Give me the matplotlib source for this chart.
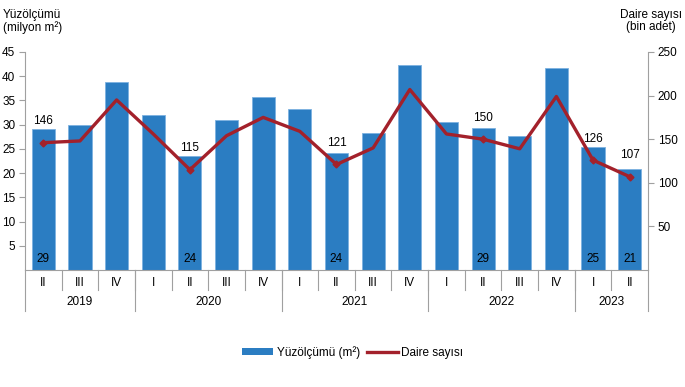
import matplotlib.pyplot as plt
import matplotlib.transforms as mtransforms
from matplotlib.patches import Patch
from matplotlib.lines import Line2D
import numpy as np

plt.rcParams['font.family'] = ['Liberation Sans', 'DejaVu Sans']
plt.rcParams['font.size'] = 8.5

# === Data ===
quarters = ['II', 'III', 'IV', 'I', 'II', 'III', 'IV', 'I', 'II', 'III', 'IV',
            'I', 'II', 'III', 'IV', 'I', 'II']
years = ['2019', '2020', '2021', '2022', '2023']
year_counts = [3, 4, 4, 4, 2]

area = [29.1, 29.9, 38.8, 32.0, 23.6, 31.0, 35.7, 33.2, 24.2, 28.2, 42.3,
        30.6, 29.4, 27.6, 41.6, 25.3, 20.9]
dwellings = [146, 148, 195, 156, 115, 154, 175, 159, 121, 140, 207,
             156, 150, 139, 199, 126, 107]
labelled = [0, 4, 8, 12, 15, 16]

bar_color = '#2B7DC2'
line_color = '#A3212B'
axis_gray = '#A0A0A0'

# === Figure ===
fig = plt.figure(figsize=(6.85, 3.87), dpi=100)
ax = fig.add_axes([25 / 685, 1 - 270 / 387, (648 - 25) / 685, (270 - 52) / 387])
ax2 = ax.twinx()

x = np.arange(len(quarters))
ax.bar(x, area, width=0.63, color=bar_color, edgecolor='#7DB2E0', linewidth=0.6, zorder=2)
ax.set_xlim(-0.5, len(quarters) - 0.5)
ax.set_ylim(0, 45)
ax.set_yticks(range(5, 50, 5))
ax.set_xticks([])

ax2.plot(x, dwellings, color=line_color, linewidth=2.4, marker='D', markersize=3.5,
         markevery=labelled, zorder=3)
ax2.set_ylim(0, 250)
ax2.set_yticks(range(50, 300, 50))

for a in (ax, ax2):
    a.spines['top'].set_visible(False)
    a.tick_params(axis='y', length=4, color=axis_gray, labelsize=8.5, pad=3)
ax.spines['right'].set_visible(False)
ax2.spines['left'].set_visible(False)
ax2.spines['bottom'].set_visible(False)
ax2.spines['right'].set_color(axis_gray)
ax.spines['left'].set_color(axis_gray)
ax.spines['bottom'].set_color(axis_gray)

# value labels
for i in labelled:
    ax.text(x[i], 1.0, f"{area[i]:.0f}", ha='center', va='bottom', fontsize=8.5, zorder=4)
    ax2.annotate(f"{dwellings[i]}", (x[i], dwellings[i]), xytext=(0, 11),
                 textcoords='offset points', ha='center', va='bottom', fontsize=8.5)

# category axis: quarters and years
trans = mtransforms.blended_transform_factory(ax.transData, ax.transAxes)
for i, q in enumerate(quarters):
    ax.text(x[i], -0.06, q, transform=trans, ha='center', va='center', fontsize=8.5)
bounds = np.cumsum([0] + year_counts) - 0.5
for b in x[:-1] + 0.5:
    ax.plot([b, b], [0, -0.09], transform=trans, color=axis_gray, lw=0.8, clip_on=False)
for b in bounds:
    ax.plot([b, b], [0, -0.19], transform=trans, color=axis_gray, lw=0.8, clip_on=False)
for j, yr in enumerate(years):
    mid = (bounds[j] + bounds[j + 1]) / 2
    ax.text(mid, -0.148, yr, transform=trans, ha='center', va='center', fontsize=8.5)

# axis titles
fig.text(3 / 685, 1 - 9 / 387, "Yüzölçümü\n(milyon m²)", ha='left', va='top',
         fontsize=8.5, linespacing=1.05)
fig.text(651 / 685, 1 - 9 / 387, "Daire sayısı\n(bin adet)", ha='center', va='top',
         fontsize=8.5, linespacing=1.05)

# legend
handles = [Patch(facecolor=bar_color, label='Yüzölçümü (m²)'),
           Line2D([0], [0], color=line_color, lw=2.4, label='Daire sayısı')]
fig.legend(handles=handles, loc='center', bbox_to_anchor=(0.515, 0.09), ncol=2,
           frameon=False, fontsize=8.5, handlelength=2.6, handleheight=0.45,
           columnspacing=0.6, handletextpad=0.3)

fig.savefig('out.png', dpi=100)
